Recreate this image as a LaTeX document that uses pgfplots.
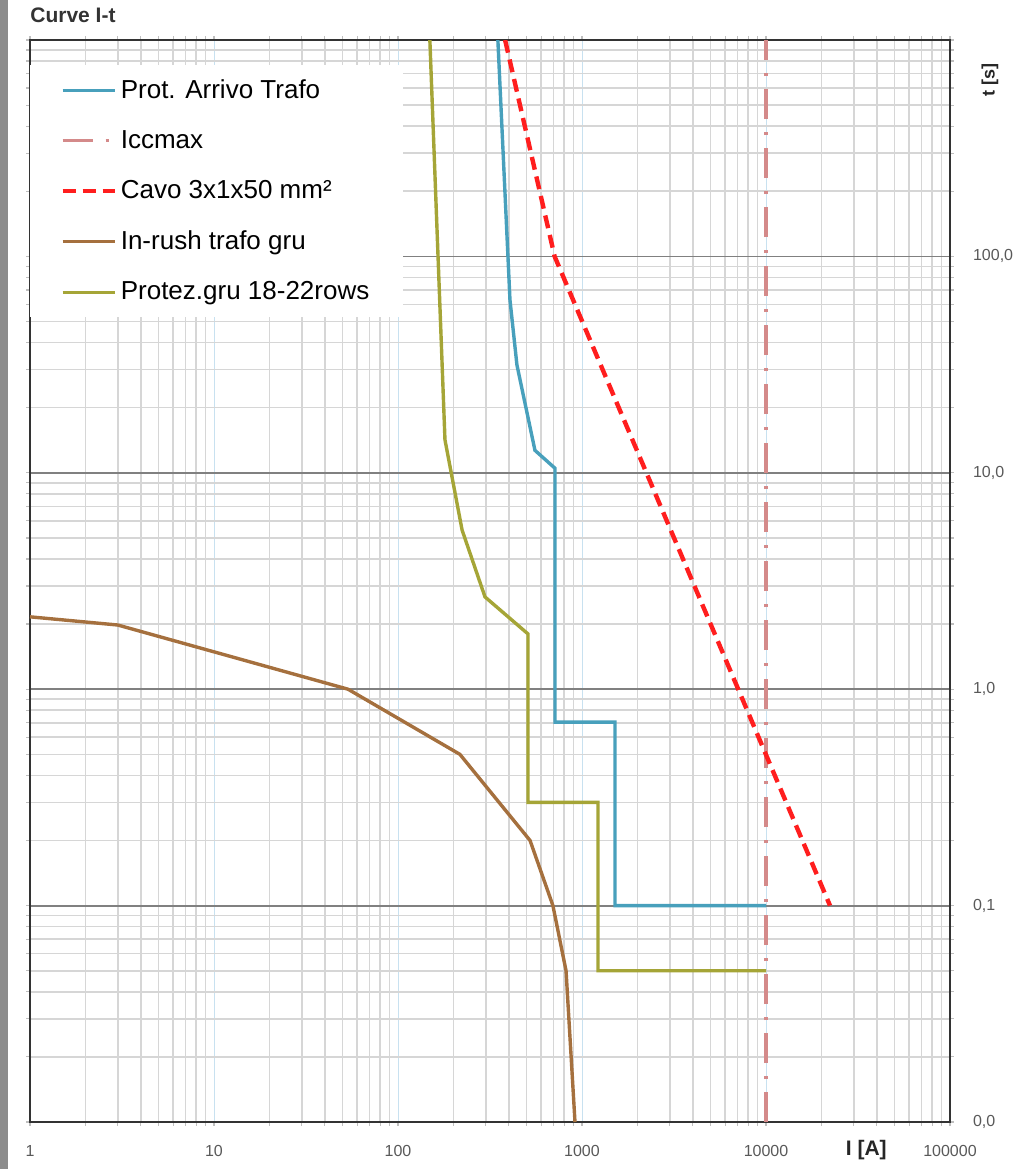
\documentclass[border=0pt]{standalone}
\usepackage{fontspec}
\setmainfont{Liberation Sans}
\usepackage{pgfplots}
\pgfplotsset{compat=1.18}
\definecolor{cteal}{RGB}{72,160,188}
\definecolor{cicc}{RGB}{212,138,138}
\definecolor{cred}{RGB}{255,30,30}
\definecolor{cbrown}{RGB}{165,112,62}
\definecolor{colive}{RGB}{165,165,55}
\definecolor{cgridblue}{RGB}{200,225,240}
\begin{document}
\begin{tikzpicture}
\begin{loglogaxis}[
  scale only axis, width=460pt, height=541pt, at={(0,0)}, anchor=south west,
  clip mode=individual,
  xmin=1, xmax=100000, ymin=0.01, ymax=1000,
  xtick={1,10,100,1000,10000,100000},
  xticklabels={1,10,100,1000,10000,100000},
  ytick={0.01,0.1,1,10,100,1000},
  yticklabels={{0,0},{0,1},{1,0},{10,0},{100,0},{}},
  yticklabel pos=right,
  minor xtick={2,3,4,5,6,7,8,9,20,30,40,50,60,70,80,90,200,300,400,500,600,700,800,900,2000,3000,4000,5000,6000,7000,8000,9000,20000,30000,40000,50000,60000,70000,80000,90000},
  minor ytick={0.02,0.03,0.04,0.05,0.06,0.07,0.08,0.09,0.2,0.3,0.4,0.5,0.6,0.7,0.8,0.9,2,3,4,5,6,7,8,9,20,30,40,50,60,70,80,90,200,300,400,500,600,700,800,900},
  grid=both,
  minor grid style={draw=black!16, line width=0.8pt},
  major x grid style={draw=cgridblue, line width=0.5pt},
  major y grid style={draw=black!50, line width=0.9pt},
  axis line style={draw=black!80, line width=1.1pt},
  tick align=outside, major tick length=2pt, minor tick length=2pt,
  tick style={draw=black!25, line width=0.6pt},
  ticklabel style={font=\fontsize{8}{9}\selectfont, text=black!65},
  xticklabel style={yshift=-6pt},
  yticklabel style={xshift=6pt},
  legend cell align=left,
  legend style={at={(axis description cs:0.0,0.977)}, anchor=north west,
    draw=none, fill=white, font=\fontsize{13}{15}\selectfont, row sep=10.6pt,
    inner xsep=15pt, inner ysep=5pt},
  legend image code/.code={\draw[#1] (0pt,0pt) -- (26pt,0pt);},
]
\addplot[cteal, line width=1.7pt] coordinates {
 (349,1000) (406,62.9) (443,31.5) (555,12.7) (713,10.5) (713,0.705)
 (1512,0.705) (1512,0.1) (10000,0.1)};
\addlegendentry{Prot. Arrivo Trafo}
\addplot[cicc, line width=1.7pt, dash pattern=on 15pt off 6.5pt on 1.5pt off 6.5pt] coordinates {
 (10000,0.01) (10000,1000)};
\addlegendentry{Iccmax}
\addplot[cred, line width=2.2pt, dash pattern=on 6.5pt off 3.5pt] coordinates {
 (382,1000) (710,100) (22280,0.1)};
\addlegendentry{Cavo 3x1x50 mm²}
\addplot[cbrown, line width=1.7pt] coordinates {
 (1,2.16) (3.0,1.98) (53.5,1.0) (217,0.5) (522,0.2) (695,0.1) (819,0.05) (916,0.01)};
\addlegendentry{In-rush trafo gru}
\addplot[colive, line width=1.7pt] coordinates {
 (149,1000) (180,14.2) (223,5.44) (297,2.67) (509,1.8) (509,0.3)
 (1222,0.3) (1222,0.05) (10000,0.05)};
\addlegendentry{Protez.gru 18-22rows}
\node[font=\bfseries\fontsize{10.5}{12}\selectfont, text=black!85] at (axis description cs:0.909,-0.026) {I [A]};
\node[font=\bfseries\fontsize{9}{11}\selectfont, text=black!85, rotate=90] at (axis description cs:1.0435,0.963) {t [s]};
\end{loglogaxis}
\node[anchor=west, font=\bfseries\fontsize{10.5}{12}\selectfont, text=black!80, inner sep=0pt] at (0pt,553.5pt) {Curve I-t};
\fill[black!45] (-15pt,-23.5pt) rectangle (-11pt,561pt);
\pgfresetboundingbox
\path[use as bounding box] (-15pt,-23.5pt) rectangle (493.5pt,561pt);
\end{tikzpicture}
\end{document}
